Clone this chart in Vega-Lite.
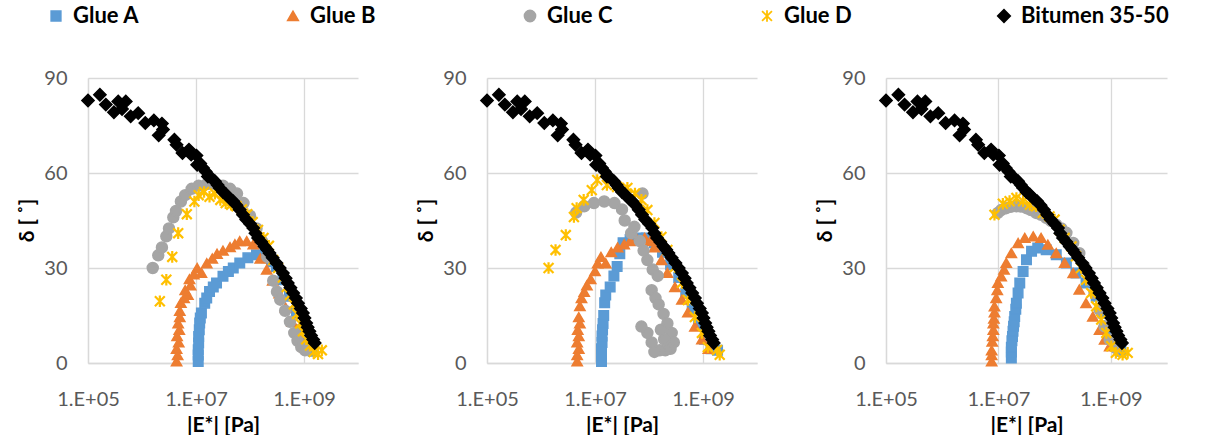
{
  "$schema": "https://vega.github.io/schema/vega-lite/v6.json",
  "background": "white",
  "padding": {"left": 16, "top": 5, "right": 0, "bottom": 0},
  "bounds": "flush",
  "spacing": 129,
  "config": {
    "font": "Lato",
    "view": {"stroke": null},
    "axis": {
      "gridColor": "#D9D9D9", "gridWidth": 1.3, "domainColor": "#D9D9D9", "domainWidth": 1.3,
      "ticks": false, "labelFont": "Lato", "labelFontSize": 20, "labelColor": "#595959",
      "titleFont": "Lato", "titleFontSize": 21, "titleFontWeight": "bold", "titleColor": "#000000"
    },
    "legend": {
      "orient": "none", "legendX": -43, "legendY": -73, "direction": "horizontal", "labelFont": "Lato", "labelFontSize": 22,
      "labelFontWeight": "bold", "labelColor": "#000000", "columnPadding": 61, "symbolStrokeWidth": 1.8,
      "gridAlign": "all", "columns": 5, "labelLimit": 300, "labelOffset": 6
    }
  },
  "datasets": {
    "bit": [
      {"s":"Bitumen 35-50","E":1e5,"d":82.9},{"s":"Bitumen 35-50","E":1.66e5,"d":84.7},{"s":"Bitumen 35-50","E":2.14e5,"d":81.6},{"s":"Bitumen 35-50","E":3.02e5,"d":79.2},{"s":"Bitumen 35-50","E":3.63e5,"d":82.6},{"s":"Bitumen 35-50","E":4.27e5,"d":80.2},{"s":"Bitumen 35-50","E":5.01e5,"d":82.6},{"s":"Bitumen 35-50","E":6.17e5,"d":77.9},{"s":"Bitumen 35-50","E":8.51e5,"d":78.9},{"s":"Bitumen 35-50","E":1.15e6,"d":75.8},{"s":"Bitumen 35-50","E":1.66e6,"d":76.6},{"s":"Bitumen 35-50","E":2.04e6,"d":71.9},{"s":"Bitumen 35-50","E":2.34e6,"d":75.6},{"s":"Bitumen 35-50","E":2.45e6,"d":73.7},{"s":"Bitumen 35-50","E":3.98e6,"d":70.5},{"s":"Bitumen 35-50","E":4.37e6,"d":68.9},{"s":"Bitumen 35-50","E":5.62e6,"d":66.3},{"s":"Bitumen 35-50","E":7.41e6,"d":67.4},{"s":"Bitumen 35-50","E":8.13e6,"d":65.8},{"s":"Bitumen 35-50","E":1.02e7,"d":65.5},{"s":"Bitumen 35-50","E":1.05e7,"d":62.6},{"s":"Bitumen 35-50","E":1.2e7,"d":63.0},{"s":"Bitumen 35-50","E":1.35e7,"d":61.6},{"s":"Bitumen 35-50","E":1.51e7,"d":60.5},{"s":"Bitumen 35-50","E":1.66e7,"d":58.9},{"s":"Bitumen 35-50","E":1.91e7,"d":58.5},{"s":"Bitumen 35-50","E":2.24e7,"d":57.4},{"s":"Bitumen 35-50","E":2.51e7,"d":56.2},{"s":"Bitumen 35-50","E":2.75e7,"d":55.3},{"s":"Bitumen 35-50","E":3.16e7,"d":54.0},{"s":"Bitumen 35-50","E":3.63e7,"d":53.2},{"s":"Bitumen 35-50","E":4.17e7,"d":52.0},{"s":"Bitumen 35-50","E":4.9e7,"d":51.1},{"s":"Bitumen 35-50","E":5.62e7,"d":49.8},{"s":"Bitumen 35-50","E":6.46e7,"d":48.4},{"s":"Bitumen 35-50","E":7.41e7,"d":46.8},{"s":"Bitumen 35-50","E":8.51e7,"d":45.3},{"s":"Bitumen 35-50","E":1e8,"d":44.0},{"s":"Bitumen 35-50","E":1.15e8,"d":42.6},{"s":"Bitumen 35-50","E":1.26e8,"d":41.0},{"s":"Bitumen 35-50","E":1.41e8,"d":39.5},{"s":"Bitumen 35-50","E":1.62e8,"d":38.2},{"s":"Bitumen 35-50","E":1.86e8,"d":36.8},{"s":"Bitumen 35-50","E":2.09e8,"d":35.8},{"s":"Bitumen 35-50","E":2.29e8,"d":34.7},{"s":"Bitumen 35-50","E":2.63e8,"d":33.2},{"s":"Bitumen 35-50","E":3.09e8,"d":31.6},{"s":"Bitumen 35-50","E":3.55e8,"d":30.0},{"s":"Bitumen 35-50","E":4.07e8,"d":28.4},{"s":"Bitumen 35-50","E":4.57e8,"d":26.8},{"s":"Bitumen 35-50","E":5.01e8,"d":25.3},{"s":"Bitumen 35-50","E":5.62e8,"d":23.8},{"s":"Bitumen 35-50","E":6.31e8,"d":22.1},{"s":"Bitumen 35-50","E":7.08e8,"d":20.5},{"s":"Bitumen 35-50","E":7.76e8,"d":18.9},{"s":"Bitumen 35-50","E":8.71e8,"d":17.2},{"s":"Bitumen 35-50","E":9.55e8,"d":15.8},{"s":"Bitumen 35-50","E":1.02e9,"d":14.2},{"s":"Bitumen 35-50","E":1.1e9,"d":12.6},{"s":"Bitumen 35-50","E":1.17e9,"d":11.3},{"s":"Bitumen 35-50","E":1.26e9,"d":10.0},{"s":"Bitumen 35-50","E":1.35e9,"d":8.7},{"s":"Bitumen 35-50","E":1.48e9,"d":7.4},{"s":"Bitumen 35-50","E":1.58e9,"d":6.3}
    ],
    "p1": [
      {"s":"Glue A","E":1.1e7,"d":0.5},{"s":"Glue A","E":1.1e7,"d":2.5},{"s":"Glue A","E":1.1e7,"d":4.2},{"s":"Glue A","E":1.12e7,"d":6.3},{"s":"Glue A","E":1.12e7,"d":8.4},{"s":"Glue A","E":1.15e7,"d":10.5},{"s":"Glue A","E":1.17e7,"d":12.6},{"s":"Glue A","E":1.2e7,"d":14.2},{"s":"Glue A","E":1.26e7,"d":15.8},{"s":"Glue A","E":1.45e7,"d":18.9},{"s":"Glue A","E":1.58e7,"d":20.5},{"s":"Glue A","E":1.78e7,"d":22.6},{"s":"Glue A","E":2.09e7,"d":24.0},{"s":"Glue A","E":2.4e7,"d":25.3},{"s":"Glue A","E":3.16e7,"d":27.4},{"s":"Glue A","E":3.98e7,"d":28.9},{"s":"Glue A","E":4.9e7,"d":30.0},{"s":"Glue A","E":6.46e7,"d":31.6},{"s":"Glue A","E":9.12e7,"d":33.2},{"s":"Glue A","E":1.32e8,"d":34.2},{"s":"Glue A","E":2e8,"d":33.2},{"s":"Glue A","E":2.51e8,"d":32.0},{"s":"Glue A","E":3.09e8,"d":30.5},{"s":"Glue A","E":4.07e8,"d":26.3},{"s":"Glue A","E":5.37e8,"d":21.1},{"s":"Glue A","E":7.24e8,"d":15.8},{"s":"Glue A","E":8.91e8,"d":10.5},{"s":"Glue A","E":1.1e9,"d":6.3},{"s":"Glue A","E":1.48e9,"d":3.7},
      {"s":"Glue B","E":4.37e6,"d":0.5},{"s":"Glue B","E":4.57e6,"d":2.5},{"s":"Glue B","E":4.37e6,"d":4.5},{"s":"Glue B","E":4.79e6,"d":6.5},{"s":"Glue B","E":4.47e6,"d":8.5},{"s":"Glue B","E":4.9e6,"d":10.5},{"s":"Glue B","E":4.68e6,"d":12.5},{"s":"Glue B","E":5.01e6,"d":14.5},{"s":"Glue B","E":5.01e6,"d":16.5},{"s":"Glue B","E":5.25e6,"d":19.0},{"s":"Glue B","E":6.03e6,"d":20.5},{"s":"Glue B","E":7.08e6,"d":21.5},{"s":"Glue B","E":6.31e6,"d":23.0},{"s":"Glue B","E":7.94e6,"d":24.5},{"s":"Glue B","E":7.59e6,"d":26.5},{"s":"Glue B","E":9.12e6,"d":28.0},{"s":"Glue B","E":1.05e7,"d":30.0},{"s":"Glue B","E":1.26e7,"d":28.5},{"s":"Glue B","E":1.58e7,"d":31.5},{"s":"Glue B","E":2e7,"d":33.0},{"s":"Glue B","E":2.45e7,"d":34.5},{"s":"Glue B","E":3.16e7,"d":35.5},{"s":"Glue B","E":4.27e7,"d":36.6},{"s":"Glue B","E":5.25e7,"d":37.5},{"s":"Glue B","E":6.46e7,"d":38.5},{"s":"Glue B","E":8.71e7,"d":38.5},{"s":"Glue B","E":1.15e8,"d":37.5},{"s":"Glue B","E":1.55e8,"d":33.0},{"s":"Glue B","E":2.04e8,"d":29.5},{"s":"Glue B","E":2.63e8,"d":26.0},{"s":"Glue B","E":3.47e8,"d":22.0},{"s":"Glue B","E":4.57e8,"d":17.5},{"s":"Glue B","E":6.03e8,"d":13.0},{"s":"Glue B","E":7.94e8,"d":8.5},{"s":"Glue B","E":1.05e9,"d":5.0},
      {"s":"Glue C","E":1.58e6,"d":30.0},{"s":"Glue C","E":2e6,"d":34.0},{"s":"Glue C","E":2.34e6,"d":36.5},{"s":"Glue C","E":2.82e6,"d":40.0},{"s":"Glue C","E":3.16e6,"d":42.5},{"s":"Glue C","E":3.8e6,"d":46.0},{"s":"Glue C","E":4.27e6,"d":48.0},{"s":"Glue C","E":5.25e6,"d":51.0},{"s":"Glue C","E":6.31e6,"d":53.0},{"s":"Glue C","E":8.32e6,"d":55.0},{"s":"Glue C","E":1.12e7,"d":56.0},{"s":"Glue C","E":1.58e7,"d":56.5},{"s":"Glue C","E":2.24e7,"d":56.5},{"s":"Glue C","E":3.16e7,"d":56.0},{"s":"Glue C","E":4.27e7,"d":55.0},{"s":"Glue C","E":5.75e7,"d":53.5},{"s":"Glue C","E":7.59e7,"d":50.5},{"s":"Glue C","E":1e8,"d":46.5},{"s":"Glue C","E":1.32e8,"d":42.5},{"s":"Glue C","E":1.66e8,"d":38.5},{"s":"Glue C","E":2.09e8,"d":33.5},{"s":"Glue C","E":2.69e8,"d":26.0},{"s":"Glue C","E":3.16e8,"d":22.5},{"s":"Glue C","E":3.63e8,"d":20.0},{"s":"Glue C","E":4.47e8,"d":16.5},{"s":"Glue C","E":5.5e8,"d":13.0},{"s":"Glue C","E":6.61e8,"d":9.5},{"s":"Glue C","E":7.59e8,"d":7.0},{"s":"Glue C","E":8.91e8,"d":5.0},{"s":"Glue C","E":1.05e9,"d":4.0},
      {"s":"Glue D","E":2.14e6,"d":19.5},{"s":"Glue D","E":2.82e6,"d":26.3},{"s":"Glue D","E":3.63e6,"d":33.5},{"s":"Glue D","E":4.68e6,"d":41.0},{"s":"Glue D","E":6.76e6,"d":47.0},{"s":"Glue D","E":9.33e6,"d":51.0},{"s":"Glue D","E":1.12e7,"d":53.0},{"s":"Glue D","E":1.41e7,"d":54.0},{"s":"Glue D","E":1.78e7,"d":52.5},{"s":"Glue D","E":2.24e7,"d":53.5},{"s":"Glue D","E":2.82e7,"d":51.5},{"s":"Glue D","E":3.55e7,"d":50.5},{"s":"Glue D","E":4.47e7,"d":50.0},{"s":"Glue D","E":5.62e7,"d":49.5},{"s":"Glue D","E":7.08e7,"d":48.5},{"s":"Glue D","E":8.91e7,"d":47.0},{"s":"Glue D","E":1.12e8,"d":44.5},{"s":"Glue D","E":1.41e8,"d":42.0},{"s":"Glue D","E":1.78e8,"d":39.5},{"s":"Glue D","E":2.24e8,"d":37.0},{"s":"Glue D","E":2.69e8,"d":32.5},{"s":"Glue D","E":3.31e8,"d":30.0},{"s":"Glue D","E":4.07e8,"d":27.0},{"s":"Glue D","E":4.79e8,"d":24.0},{"s":"Glue D","E":5.5e8,"d":21.5},{"s":"Glue D","E":6.46e8,"d":18.5},{"s":"Glue D","E":7.41e8,"d":15.5},{"s":"Glue D","E":8.51e8,"d":12.5},{"s":"Glue D","E":9.55e8,"d":10.0},{"s":"Glue D","E":1.1e9,"d":7.5},{"s":"Glue D","E":1.29e9,"d":5.5},{"s":"Glue D","E":1.51e9,"d":3.5},{"s":"Glue D","E":1.82e9,"d":2.8},{"s":"Glue D","E":2.14e9,"d":4.0}
    ],
    "p2": [
      {"s":"Glue A","E":1.32e7,"d":0.5},{"s":"Glue A","E":1.32e7,"d":2.5},{"s":"Glue A","E":1.32e7,"d":4.5},{"s":"Glue A","E":1.35e7,"d":6.5},{"s":"Glue A","E":1.35e7,"d":8.5},{"s":"Glue A","E":1.38e7,"d":10.5},{"s":"Glue A","E":1.41e7,"d":12.5},{"s":"Glue A","E":1.45e7,"d":15.0},{"s":"Glue A","E":1.51e7,"d":19.0},{"s":"Glue A","E":1.58e7,"d":21.5},{"s":"Glue A","E":1.91e7,"d":24.0},{"s":"Glue A","E":2.24e7,"d":27.5},{"s":"Glue A","E":2.57e7,"d":30.5},{"s":"Glue A","E":2.88e7,"d":34.5},{"s":"Glue A","E":3.31e7,"d":38.0},{"s":"Glue A","E":4.47e7,"d":39.0},{"s":"Glue A","E":6.31e7,"d":39.5},{"s":"Glue A","E":8.91e7,"d":39.5},{"s":"Glue A","E":1.26e8,"d":38.0},{"s":"Glue A","E":1.78e8,"d":35.0},{"s":"Glue A","E":2.51e8,"d":31.0},{"s":"Glue A","E":3.55e8,"d":27.0},{"s":"Glue A","E":4.79e8,"d":22.0},{"s":"Glue A","E":6.31e8,"d":17.0},{"s":"Glue A","E":8.32e8,"d":12.0},{"s":"Glue A","E":1.07e9,"d":7.5},{"s":"Glue A","E":1.41e9,"d":4.5},{"s":"Glue A","E":1.86e9,"d":4.0},
      {"s":"Glue B","E":4.68e6,"d":0.5},{"s":"Glue B","E":4.68e6,"d":2.5},{"s":"Glue B","E":5.01e6,"d":4.5},{"s":"Glue B","E":4.68e6,"d":6.5},{"s":"Glue B","E":5.01e6,"d":8.5},{"s":"Glue B","E":4.79e6,"d":10.5},{"s":"Glue B","E":5.25e6,"d":12.5},{"s":"Glue B","E":5.01e6,"d":14.5},{"s":"Glue B","E":5.25e6,"d":18.0},{"s":"Glue B","E":5.62e6,"d":20.5},{"s":"Glue B","E":6.31e6,"d":22.5},{"s":"Glue B","E":7.08e6,"d":24.5},{"s":"Glue B","E":8.32e6,"d":26.5},{"s":"Glue B","E":1e7,"d":29.0},{"s":"Glue B","E":1.12e7,"d":31.5},{"s":"Glue B","E":1.29e7,"d":33.5},{"s":"Glue B","E":1.58e7,"d":31.5},{"s":"Glue B","E":2e7,"d":35.0},{"s":"Glue B","E":2.63e7,"d":36.5},{"s":"Glue B","E":3.47e7,"d":37.5},{"s":"Glue B","E":4.47e7,"d":38.5},{"s":"Glue B","E":6.03e7,"d":39.0},{"s":"Glue B","E":8.32e7,"d":39.5},{"s":"Glue B","E":1.05e8,"d":38.5},{"s":"Glue B","E":1.26e8,"d":36.5},{"s":"Glue B","E":1.7e8,"d":32.5},{"s":"Glue B","E":2.19e8,"d":28.5},{"s":"Glue B","E":3.02e8,"d":24.0},{"s":"Glue B","E":4.07e8,"d":20.0},{"s":"Glue B","E":5.25e8,"d":16.0},{"s":"Glue B","E":7.08e8,"d":11.5},{"s":"Glue B","E":9.55e8,"d":7.5},{"s":"Glue B","E":1.26e9,"d":4.5},
      {"s":"Glue C","E":4.47e6,"d":47.5},{"s":"Glue C","E":6.31e6,"d":49.5},{"s":"Glue C","E":9.55e6,"d":50.5},{"s":"Glue C","E":1.48e7,"d":51.0},{"s":"Glue C","E":2.29e7,"d":50.5},{"s":"Glue C","E":3.16e7,"d":48.5},{"s":"Glue C","E":3.55e7,"d":45.0},{"s":"Glue C","E":4.68e7,"d":41.0},{"s":"Glue C","E":5.37e7,"d":43.0},{"s":"Glue C","E":7.59e7,"d":53.5},{"s":"Glue C","E":6.76e7,"d":38.5},{"s":"Glue C","E":7.94e7,"d":35.5},{"s":"Glue C","E":9.33e7,"d":32.5},{"s":"Glue C","E":1.17e8,"d":29.5},{"s":"Glue C","E":1.45e8,"d":27.5},{"s":"Glue C","E":1.12e8,"d":23.0},{"s":"Glue C","E":1.32e8,"d":20.5},{"s":"Glue C","E":1.51e8,"d":18.5},{"s":"Glue C","E":1.86e8,"d":15.5},{"s":"Glue C","E":2.19e8,"d":12.5},{"s":"Glue C","E":2.63e8,"d":9.5},{"s":"Glue C","E":2.88e8,"d":6.5},{"s":"Glue C","E":2.51e8,"d":4.5},{"s":"Glue C","E":2e8,"d":4.0},{"s":"Glue C","E":1.58e8,"d":4.0},{"s":"Glue C","E":1.26e8,"d":3.5},{"s":"Glue C","E":1.12e8,"d":6.5},{"s":"Glue C","E":9.33e7,"d":9.5},{"s":"Glue C","E":7.24e7,"d":11.5},{"s":"Glue C","E":1.91e8,"d":7.5},{"s":"Glue C","E":1.66e8,"d":10.5},
      {"s":"Glue D","E":1.38e6,"d":30.0},{"s":"Glue D","E":1.86e6,"d":35.7},{"s":"Glue D","E":2.88e6,"d":40.4},{"s":"Glue D","E":4.07e6,"d":46.1},{"s":"Glue D","E":4.57e6,"d":48.9},{"s":"Glue D","E":6.17e6,"d":51.5},{"s":"Glue D","E":8.71e6,"d":54.6},{"s":"Glue D","E":1.1e7,"d":57.8},{"s":"Glue D","E":1.66e7,"d":56.2},{"s":"Glue D","E":2.57e7,"d":55.6},{"s":"Glue D","E":3.98e7,"d":55.3},{"s":"Glue D","E":5.5e7,"d":53.5},{"s":"Glue D","E":7.24e7,"d":51.5},{"s":"Glue D","E":9.33e7,"d":48.3},{"s":"Glue D","E":1.26e8,"d":44.2},{"s":"Glue D","E":1.7e8,"d":39.8},{"s":"Glue D","E":2.19e8,"d":35.7},{"s":"Glue D","E":3.02e8,"d":30.3},{"s":"Glue D","E":4.07e8,"d":25.3},{"s":"Glue D","E":5.25e8,"d":19.9},{"s":"Glue D","E":7.08e8,"d":14.5},{"s":"Glue D","E":9.55e8,"d":9.5},{"s":"Glue D","E":1.23e9,"d":5.0},{"s":"Glue D","E":1.82e9,"d":4.1},{"s":"Glue D","E":2.04e9,"d":2.6}
    ],
    "p3": [
      {"s":"Glue A","E":1.7e7,"d":1.6},{"s":"Glue A","E":1.7e7,"d":3.5},{"s":"Glue A","E":1.7e7,"d":5.0},{"s":"Glue A","E":1.74e7,"d":7.0},{"s":"Glue A","E":1.78e7,"d":8.4},{"s":"Glue A","E":1.82e7,"d":10.0},{"s":"Glue A","E":1.86e7,"d":11.6},{"s":"Glue A","E":1.91e7,"d":13.0},{"s":"Glue A","E":1.95e7,"d":14.7},{"s":"Glue A","E":2.04e7,"d":17.0},{"s":"Glue A","E":2.09e7,"d":18.9},{"s":"Glue A","E":2.24e7,"d":22.1},{"s":"Glue A","E":2.4e7,"d":25.3},{"s":"Glue A","E":2.75e7,"d":28.9},{"s":"Glue A","E":3.16e7,"d":32.6},{"s":"Glue A","E":3.89e7,"d":35.3},{"s":"Glue A","E":5.01e7,"d":36.3},{"s":"Glue A","E":7.08e7,"d":35.8},{"s":"Glue A","E":1.07e8,"d":34.2},{"s":"Glue A","E":1.62e8,"d":31.6},{"s":"Glue A","E":2.4e8,"d":28.4},{"s":"Glue A","E":3.63e8,"d":25.3},{"s":"Glue A","E":5.5e8,"d":21.1},{"s":"Glue A","E":7.24e8,"d":15.8},{"s":"Glue A","E":9.55e8,"d":10.5},{"s":"Glue A","E":1.17e9,"d":6.3},{"s":"Glue A","E":1.51e9,"d":3.7},
      {"s":"Glue B","E":7.59e6,"d":0.5},{"s":"Glue B","E":7.59e6,"d":2.5},{"s":"Glue B","E":7.59e6,"d":4.0},{"s":"Glue B","E":7.76e6,"d":6.8},{"s":"Glue B","E":7.94e6,"d":8.5},{"s":"Glue B","E":8.13e6,"d":10.5},{"s":"Glue B","E":8.13e6,"d":12.5},{"s":"Glue B","E":8.32e6,"d":14.0},{"s":"Glue B","E":8.51e6,"d":16.0},{"s":"Glue B","E":8.51e6,"d":17.9},{"s":"Glue B","E":9.12e6,"d":20.5},{"s":"Glue B","E":9.55e6,"d":23.0},{"s":"Glue B","E":9.77e6,"d":25.3},{"s":"Glue B","E":1.12e7,"d":27.4},{"s":"Glue B","E":1.26e7,"d":29.5},{"s":"Glue B","E":1.38e7,"d":31.6},{"s":"Glue B","E":1.7e7,"d":34.7},{"s":"Glue B","E":2.24e7,"d":37.9},{"s":"Glue B","E":2.95e7,"d":39.5},{"s":"Glue B","E":4.17e7,"d":40.0},{"s":"Glue B","E":5.75e7,"d":39.5},{"s":"Glue B","E":7.59e7,"d":37.4},{"s":"Glue B","E":1.07e8,"d":34.7},{"s":"Glue B","E":1.51e8,"d":31.6},{"s":"Glue B","E":2.14e8,"d":28.4},{"s":"Glue B","E":2.75e8,"d":23.2},{"s":"Glue B","E":3.63e8,"d":18.9},{"s":"Glue B","E":4.79e8,"d":14.7},{"s":"Glue B","E":6.31e8,"d":10.5},{"s":"Glue B","E":7.76e8,"d":7.4},{"s":"Glue B","E":9.55e8,"d":5.3},
      {"s":"Glue C","E":9.77e6,"d":47.4},{"s":"Glue C","E":1.12e7,"d":48.3},{"s":"Glue C","E":1.38e7,"d":48.9},{"s":"Glue C","E":1.66e7,"d":49.3},{"s":"Glue C","E":2.09e7,"d":49.5},{"s":"Glue C","E":2.51e7,"d":49.4},{"s":"Glue C","E":3.16e7,"d":48.9},{"s":"Glue C","E":3.8e7,"d":48.3},{"s":"Glue C","E":4.68e7,"d":47.4},{"s":"Glue C","E":5.75e7,"d":46.8},{"s":"Glue C","E":7.08e7,"d":45.8},{"s":"Glue C","E":8.71e7,"d":44.8},{"s":"Glue C","E":1.07e8,"d":43.7},{"s":"Glue C","E":1.32e8,"d":42.5},{"s":"Glue C","E":1.62e8,"d":41.1},{"s":"Glue C","E":2.14e8,"d":37.9},{"s":"Glue C","E":2.75e8,"d":34.7},{"s":"Glue C","E":3.39e8,"d":30.5},{"s":"Glue C","E":4.17e8,"d":26.3},{"s":"Glue C","E":5.13e8,"d":22.1},{"s":"Glue C","E":6.31e8,"d":16.8},{"s":"Glue C","E":7.76e8,"d":11.6},{"s":"Glue C","E":9.55e8,"d":7.4},{"s":"Glue C","E":1.23e9,"d":4.7},
      {"s":"Glue D","E":8.51e6,"d":46.8},{"s":"Glue D","E":1.2e7,"d":50.3},{"s":"Glue D","E":1.58e7,"d":51.1},{"s":"Glue D","E":2.09e7,"d":52.1},{"s":"Glue D","E":2.75e7,"d":51.1},{"s":"Glue D","E":3.63e7,"d":50.0},{"s":"Glue D","E":4.68e7,"d":49.5},{"s":"Glue D","E":6.17e7,"d":47.4},{"s":"Glue D","E":8.13e7,"d":46.3},{"s":"Glue D","E":1e8,"d":45.3},{"s":"Glue D","E":1.23e8,"d":42.1},{"s":"Glue D","E":1.51e8,"d":39.5},{"s":"Glue D","E":2e8,"d":36.8},{"s":"Glue D","E":2.4e8,"d":33.7},{"s":"Glue D","E":2.95e8,"d":30.0},{"s":"Glue D","E":3.63e8,"d":26.3},{"s":"Glue D","E":4.47e8,"d":22.1},{"s":"Glue D","E":5.5e8,"d":17.9},{"s":"Glue D","E":6.76e8,"d":13.7},{"s":"Glue D","E":8.32e8,"d":9.5},{"s":"Glue D","E":1.02e9,"d":5.3},{"s":"Glue D","E":1.23e9,"d":3.2},{"s":"Glue D","E":1.62e9,"d":2.6},{"s":"Glue D","E":2e9,"d":3.2}
    ]
  },
  "hconcat": [
    {
      "width": 270, "height": 285,
      "encoding": {
        "x": {"field": "E", "type": "quantitative", "scale": {"type": "log", "domain": [100000, 10000000000], "nice": false},
              "axis": {"values": [100000, 10000000, 1000000000], "labelExpr": "'1.E+0' + round(log(datum.value)/LN10)", "title": "|E*| [Pa]", "grid": true, "labelPadding": 26, "titleY": 62, "titleBaseline": "middle", "labelFlush": false, "labelOverlap": false}},
        "y": {"field": "d", "type": "quantitative", "scale": {"domain": [0, 90], "nice": false},
              "axis": {"values": [0, 30, 60, 90], "title": "δ [ ˚]", "labelPadding": 21, "titleX": -61, "titleY": 142, "titleBaseline": "middle", "labelFlush": false}},
        "shape": {"field": "s", "type": "nominal", "scale": {"domain": ["Glue A", "Glue B", "Glue C", "Glue D", "Bitumen 35-50"], "range": ["square", "triangle-up", "circle", "M0,-1L0,1M-0.85,-0.85L0.85,0.85M-0.85,0.85L0.85,-0.85", "diamond"]}, "legend": {"title": null}},
        "fill": {"field": "s", "type": "nominal", "scale": {"domain": ["Glue A", "Glue B", "Glue C", "Glue D", "Bitumen 35-50"], "range": ["#5B9BD5", "#ED7D31", "#A5A5A5", "#FFC000", "#000000"]}, "legend": {"title": null}},
        "stroke": {"field": "s", "type": "nominal", "scale": {"domain": ["Glue A", "Glue B", "Glue C", "Glue D", "Bitumen 35-50"], "range": ["#5B9BD5", "#ED7D31", "#A5A5A5", "#FFC000", "#000000"]}, "legend": {"title": null}},
        "size": {"field": "s", "type": "nominal", "scale": {"domain": ["Glue A", "Glue B", "Glue C", "Glue D", "Bitumen 35-50"], "range": [90, 150, 180, 230, 90]}, "legend": {"title": null}}
      },
      "layer": [
        {"data": {"name": "p1"}, "transform": [{"filter": "datum.s !== 'Glue D'"}], "mark": {"type": "point", "opacity": 1, "strokeWidth": 1.5}},
        {"data": {"name": "p1"}, "transform": [{"filter": "datum.s === 'Glue D'"}], "mark": {"type": "point", "opacity": 1, "strokeWidth": 2.2}},
        {"data": {"name": "bit"}, "mark": {"type": "point", "opacity": 1, "strokeWidth": 1.5}}
      ]
    },
    {
      "width": 270, "height": 285,
      "encoding": {
        "x": {"field": "E", "type": "quantitative", "scale": {"type": "log", "domain": [100000, 10000000000], "nice": false},
              "axis": {"values": [100000, 10000000, 1000000000], "labelExpr": "'1.E+0' + round(log(datum.value)/LN10)", "title": "|E*| [Pa]", "grid": true, "labelPadding": 26, "titleY": 62, "titleBaseline": "middle", "labelFlush": false, "labelOverlap": false}},
        "y": {"field": "d", "type": "quantitative", "scale": {"domain": [0, 90], "nice": false},
              "axis": {"values": [0, 30, 60, 90], "title": "δ [ ˚]", "labelPadding": 21, "titleX": -61, "titleY": 142, "titleBaseline": "middle", "labelFlush": false}},
        "shape": {"field": "s", "type": "nominal", "scale": {"domain": ["Glue A", "Glue B", "Glue C", "Glue D", "Bitumen 35-50"], "range": ["square", "triangle-up", "circle", "M0,-1L0,1M-0.85,-0.85L0.85,0.85M-0.85,0.85L0.85,-0.85", "diamond"]}, "legend": {"title": null}},
        "fill": {"field": "s", "type": "nominal", "scale": {"domain": ["Glue A", "Glue B", "Glue C", "Glue D", "Bitumen 35-50"], "range": ["#5B9BD5", "#ED7D31", "#A5A5A5", "#FFC000", "#000000"]}, "legend": {"title": null}},
        "stroke": {"field": "s", "type": "nominal", "scale": {"domain": ["Glue A", "Glue B", "Glue C", "Glue D", "Bitumen 35-50"], "range": ["#5B9BD5", "#ED7D31", "#A5A5A5", "#FFC000", "#000000"]}, "legend": {"title": null}},
        "size": {"field": "s", "type": "nominal", "scale": {"domain": ["Glue A", "Glue B", "Glue C", "Glue D", "Bitumen 35-50"], "range": [90, 150, 180, 230, 90]}, "legend": {"title": null}}
      },
      "layer": [
        {"data": {"name": "p2"}, "transform": [{"filter": "datum.s !== 'Glue D'"}], "mark": {"type": "point", "opacity": 1, "strokeWidth": 1.5}},
        {"data": {"name": "p2"}, "transform": [{"filter": "datum.s === 'Glue D'"}], "mark": {"type": "point", "opacity": 1, "strokeWidth": 2.2}},
        {"data": {"name": "bit"}, "mark": {"type": "point", "opacity": 1, "strokeWidth": 1.5}}
      ]
    },
    {
      "width": 281, "height": 285,
      "encoding": {
        "x": {"field": "E", "type": "quantitative", "scale": {"type": "log", "domain": [100000, 10000000000], "nice": false},
              "axis": {"values": [100000, 10000000, 1000000000], "labelExpr": "'1.E+0' + round(log(datum.value)/LN10)", "title": "|E*| [Pa]", "grid": true, "labelPadding": 26, "titleY": 62, "titleBaseline": "middle", "labelFlush": false, "labelOverlap": false}},
        "y": {"field": "d", "type": "quantitative", "scale": {"domain": [0, 90], "nice": false},
              "axis": {"values": [0, 30, 60, 90], "title": "δ [ ˚]", "labelPadding": 21, "titleX": -61, "titleY": 142, "titleBaseline": "middle", "labelFlush": false}},
        "shape": {"field": "s", "type": "nominal", "scale": {"domain": ["Glue A", "Glue B", "Glue C", "Glue D", "Bitumen 35-50"], "range": ["square", "triangle-up", "circle", "M0,-1L0,1M-0.85,-0.85L0.85,0.85M-0.85,0.85L0.85,-0.85", "diamond"]}, "legend": {"title": null}},
        "fill": {"field": "s", "type": "nominal", "scale": {"domain": ["Glue A", "Glue B", "Glue C", "Glue D", "Bitumen 35-50"], "range": ["#5B9BD5", "#ED7D31", "#A5A5A5", "#FFC000", "#000000"]}, "legend": {"title": null}},
        "stroke": {"field": "s", "type": "nominal", "scale": {"domain": ["Glue A", "Glue B", "Glue C", "Glue D", "Bitumen 35-50"], "range": ["#5B9BD5", "#ED7D31", "#A5A5A5", "#FFC000", "#000000"]}, "legend": {"title": null}},
        "size": {"field": "s", "type": "nominal", "scale": {"domain": ["Glue A", "Glue B", "Glue C", "Glue D", "Bitumen 35-50"], "range": [90, 150, 180, 230, 90]}, "legend": {"title": null}}
      },
      "layer": [
        {"data": {"name": "p3"}, "transform": [{"filter": "datum.s !== 'Glue D'"}], "mark": {"type": "point", "opacity": 1, "strokeWidth": 1.5}},
        {"data": {"name": "p3"}, "transform": [{"filter": "datum.s === 'Glue D'"}], "mark": {"type": "point", "opacity": 1, "strokeWidth": 2.2}},
        {"data": {"name": "bit"}, "mark": {"type": "point", "opacity": 1, "strokeWidth": 1.5}}
      ]
    }
  ]
}
